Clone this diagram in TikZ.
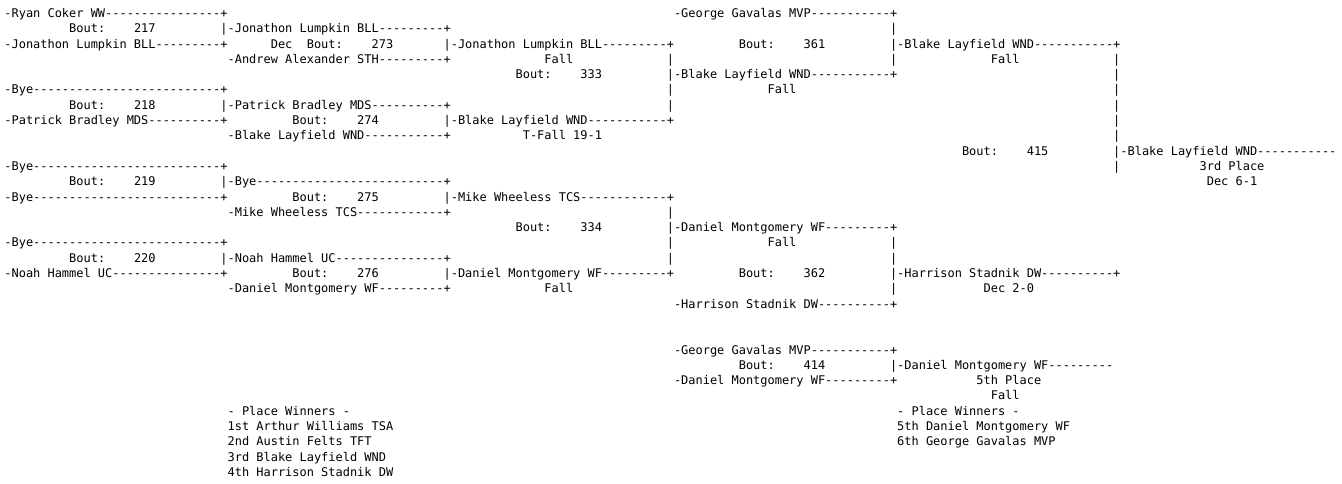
\documentclass[tikz,border=0pt]{standalone}
\usepackage{fontspec}
\setmonofont{DejaVu Sans Mono}
\usepackage{tikz}
\newcommand{\bout}[1]{Bout:\ \ \ \ #1}
\newcommand{\dsh}[1]{\foreach \k in {1,...,#1}{-}}

\begin{document}
\begin{tikzpicture}[x=7.2pt, y=-15.3pt, txt/.style={anchor=base west, inner sep=0pt, outer sep=0pt, font=\ttfamily\fontsize{11.96pt}{15.3pt}\selectfont}]
\fill[white] (-4.4pt,17.4pt) rectangle (1337.6pt,-465.6pt);
\tikzstyle{bar}=[txt]
% first round
\node[txt] (e217a) at (0,0) {-Ryan Coker WW\dsh{16}+};
\node[txt] (n217) at (9,1) {\bout{217}};
\node[txt] (e217b) at (0,2) {-Jonathon Lumpkin BLL\dsh{9}+};
\node[txt] (e218a) at (0,5) {-Bye\dsh{26}+};
\node[txt] (n218) at (9,6) {\bout{218}};
\node[txt] (e218b) at (0,7) {-Patrick Bradley MDS\dsh{10}+};
\node[txt] (e219a) at (0,10) {-Bye\dsh{26}+};
\node[txt] (n219) at (9,11) {\bout{219}};
\node[txt] (e219b) at (0,12) {-Bye\dsh{26}+};
\node[txt] (e220a) at (0,15) {-Bye\dsh{26}+};
\node[txt] (n220) at (9,16) {\bout{220}};
\node[txt] (e220b) at (0,17) {-Noah Hammel UC\dsh{15}+};
% second round
\node[txt] (e273a) at (30,1) {|-Jonathon Lumpkin BLL\dsh{9}+};
\node[txt] (r217) at (37,2) {Dec};
\node[txt] (n273) at (42,2) {\bout{273}};
\node[txt] (e273b) at (31,3) {-Andrew Alexander STH\dsh{9}+};
\node[txt] (e274a) at (30,6) {|-Patrick Bradley MDS\dsh{10}+};
\node[txt] (n274) at (40,7) {\bout{274}};
\node[txt] (e274b) at (31,8) {-Blake Layfield WND\dsh{11}+};
\node[txt] (e275a) at (30,11) {|-Bye\dsh{26}+};
\node[txt] (n275) at (40,12) {\bout{275}};
\node[txt] (e275b) at (31,13) {-Mike Wheeless TCS\dsh{12}+};
\node[txt] (e276a) at (30,16) {|-Noah Hammel UC\dsh{15}+};
\node[txt] (n276) at (40,17) {\bout{276}};
\node[txt] (e276b) at (31,18) {-Daniel Montgomery WF\dsh{9}+};
% quarter finals
\node[txt] (e333a) at (61,2) {|-Jonathon Lumpkin BLL\dsh{9}+};
\node[txt] (r273) at (75,3) {Fall};
\node[txt] (n333) at (71,4) {\bout{333}};
\node[txt] (e333b) at (61,7) {|-Blake Layfield WND\dsh{11}+};
\node[txt] (r274) at (72,8) {T-Fall 19-1};
\node[txt] (e334a) at (61,12) {|-Mike Wheeless TCS\dsh{12}+};
\node[txt] (n334) at (71,14) {\bout{334}};
\node[txt] (e334b) at (61,17) {|-Daniel Montgomery WF\dsh{9}+};
\node[txt] (r276) at (75,18) {Fall};
\foreach \r in {3,5,6} {\node[bar] (v333\r) at (92,\r) {|};}
\foreach \r in {13,15,16} {\node[bar] (v334\r) at (92,\r) {|};}
% semi finals
\node[txt] (e361a) at (93,0) {-George Gavalas MVP\dsh{11}+};
\node[txt] (n361) at (102,2) {\bout{361}};
\node[txt] (e361b) at (92,4) {|-Blake Layfield WND\dsh{11}+};
\node[txt] (r333) at (106,5) {Fall};
\node[txt] (e362a) at (92,14) {|-Daniel Montgomery WF\dsh{9}+};
\node[txt] (r334) at (106,15) {Fall};
\node[txt] (n362) at (102,17) {\bout{362}};
\node[txt] (e362b) at (93,19) {-Harrison Stadnik DW\dsh{10}+};
\foreach \r in {1,3} {\node[bar] (v361\r) at (123,\r) {|};}
\foreach \r in {15,16,18} {\node[bar] (v362\r) at (123,\r) {|};}
% third place
\node[txt] (e415a) at (123,2) {|-Blake Layfield WND\dsh{11}+};
\node[txt] (r361) at (137,3) {Fall};
\node[txt] (n415) at (133,9) {\bout{415}};
\node[txt] (e415b) at (123,17) {|-Harrison Stadnik DW\dsh{10}+};
\node[txt] (r362) at (136,18) {Dec 2-0};
\foreach \r in {3,...,8,10,...,16} {\node[bar] (v415\r) at (154,\r) {|};}
\node[txt] (w415) at (154,9) {|-Blake Layfield WND\dsh{11}};
\node[txt] (p415) at (166,10) {3rd Place};
\node[txt] (r415) at (167,11) {Dec 6-1};
% fifth place
\node[txt] (e414a) at (93,22) {-George Gavalas MVP\dsh{11}+};
\node[txt] (n414) at (102,23) {\bout{414}};
\node[txt] (w414) at (123,23) {|-Daniel Montgomery WF\dsh{9}};
\node[txt] (e414b) at (93,24) {-Daniel Montgomery WF\dsh{9}+};
\node[txt] (p414) at (135,24) {5th Place};
\node[txt] (r414) at (137,25) {Fall};
% place winners
\node[txt] (pwa) at (31,26) {- Place Winners -};
\node[txt] (pw1) at (31,27) {1st Arthur Williams TSA};
\node[txt] (pw2) at (31,28) {2nd Austin Felts TFT};
\node[txt] (pw3) at (31,29) {3rd Blake Layfield WND};
\node[txt] (pw4) at (31,30) {4th Harrison Stadnik DW};
\node[txt] (pwb) at (124,26) {- Place Winners -};
\node[txt] (pw5) at (124,27) {5th Daniel Montgomery WF};
\node[txt] (pw6) at (124,28) {6th George Gavalas MVP};
\end{tikzpicture}
\end{document}
